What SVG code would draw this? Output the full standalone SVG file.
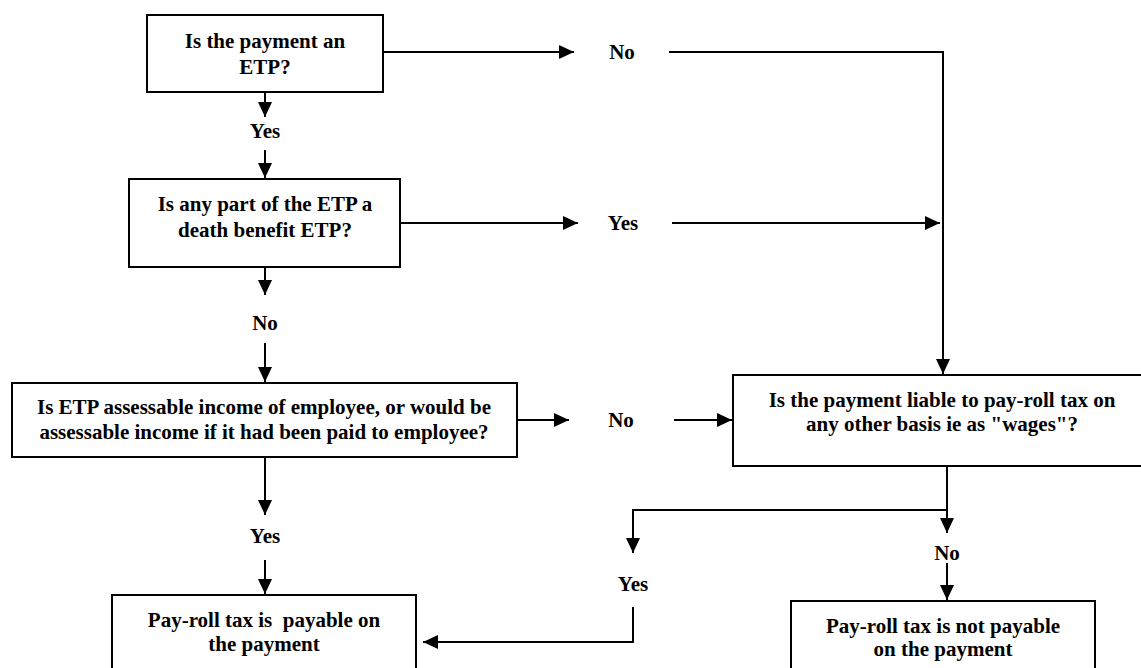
<svg xmlns="http://www.w3.org/2000/svg" width="1141" height="668" viewBox="0 0 1141 668">
<style>
.box{fill:#fff;stroke:#000;stroke-width:2}
.t{font-family:'Liberation Serif','Times New Roman','DejaVu Serif',serif;font-weight:700;font-size:21px;fill:#000;text-anchor:middle;white-space:pre}
.c{fill:none;stroke:#000;stroke-width:2;marker-end:url(#ah)}
</style>
<defs>
<marker id="ah" markerUnits="userSpaceOnUse" markerWidth="16" markerHeight="14" refX="15" refY="7" orient="auto">
<path d="M0,0 L15,7 L0,14 z" fill="#000"/>
</marker>
</defs>
<rect width="1141" height="668" fill="#fff"/>
<g id="connectors">
<path class="c" d="M383,52 H574"/>
<path class="c" d="M669,52 H943 V374"/>
<path class="c" d="M265,92 V117"/>
<path class="c" d="M265,150 V178"/>
<path class="c" d="M400,223 H578"/>
<path class="c" d="M672,223 H940"/>
<path class="c" d="M265,267 V295"/>
<path class="c" d="M265,343 V382"/>
<path class="c" d="M517,420 H569"/>
<path class="c" d="M674,420 H732"/>
<path class="c" d="M265,457 V515"/>
<path class="c" d="M265,560 V594"/>
<path class="c" d="M947,466 V533"/>
<path class="c" d="M947,510 H633 V553"/>
<path class="c" d="M633,607 V642 H423"/>
<path class="c" d="M947,563 V600"/>
</g>
<g id="labels" font-family="Liberation Serif, serif" font-weight="bold">
<text class="t" x="622" y="59">No</text>
<text class="t" x="265" y="138">Yes</text>
<text class="t" x="623" y="230">Yes</text>
<text class="t" x="265" y="330">No</text>
<text class="t" x="621" y="427">No</text>
<text class="t" x="265" y="543">Yes</text>
<text class="t" x="633" y="591">Yes</text>
<text class="t" x="947" y="560">No</text>
</g>
<g id="q1" font-family="Liberation Serif, serif">
<rect class="box" x="147" y="15" width="236" height="77"/>
<text class="t" x="265" y="48">Is the payment an</text>
<text class="t" x="265" y="74">ETP?</text>
</g>
<g id="q2" font-family="Liberation Serif, serif">
<rect class="box" x="129" y="179" width="271" height="88"/>
<text class="t" x="265" y="211">Is any part of the ETP a</text>
<text class="t" x="265" y="237">death benefit ETP?</text>
</g>
<g id="q3" font-family="Liberation Serif, serif">
<rect class="box" x="12" y="383" width="505" height="74"/>
<text class="t" x="264" y="414">Is ETP assessable income of employee, or would be</text>
<text class="t" x="264" y="439">assessable income if it had been paid to employee?</text>
</g>
<g id="q4" font-family="Liberation Serif, serif">
<rect class="box" x="733" y="375" width="420" height="91"/>
<text class="t" x="942" y="407">Is the payment liable to pay-roll tax on</text>
<text class="t" x="942" y="431">any other basis ie as "wages"?</text>
</g>
<g id="r1" font-family="Liberation Serif, serif">
<rect class="box" x="112" y="595" width="304" height="76"/>
<text class="t" x="264" y="627" xml:space="preserve">Pay-roll tax is  payable on</text>
<text class="t" x="264" y="651">the payment</text>
</g>
<g id="r2" font-family="Liberation Serif, serif">
<rect class="box" x="791" y="601" width="304" height="70"/>
<text class="t" x="943" y="633">Pay-roll tax is not payable</text>
<text class="t" x="943" y="656">on the payment</text>
</g>
</svg>
